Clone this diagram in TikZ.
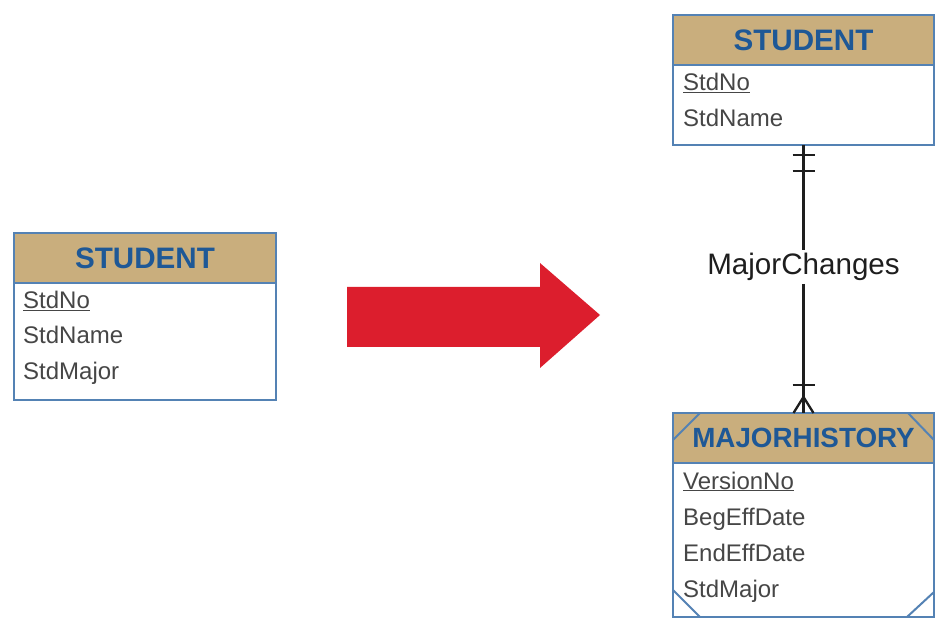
\documentclass[tikz,border=0pt]{standalone}
\usepackage{fontspec}
\setmainfont{Liberation Sans}
\usetikzlibrary{calc}
\definecolor{entblue}{RGB}{84,130,180}
\definecolor{tan}{RGB}{201,174,125}
\definecolor{hdrblue}{RGB}{30,88,150}
\definecolor{attrgray}{RGB}{70,70,70}
\definecolor{linegray}{RGB}{30,30,30}
\definecolor{arrowred}{RGB}{220,30,45}
\begin{document}
\begin{tikzpicture}[x=1pt,y=-1pt,
  ent/.style={draw=entblue, line width=2.4pt, inner sep=0pt, outer sep=0pt, anchor=north west},
  hdr/.style={ent, fill=tan, text=hdrblue, font=\fontsize{29.6}{30}\selectfont\bfseries},
  bodybox/.style={ent, fill=white},
  attr/.style={anchor=base west, text=attrgray, font=\fontsize{24}{24}\selectfont, inner sep=0pt},
  rel/.style={draw=linegray, line width=2.3pt},
  corner/.style={draw=entblue, line width=2pt}]
\useasboundingbox (0,0) rectangle (948,628);
% left STUDENT
\node[hdr, minimum width=262pt, minimum height=50pt] (s1h) at (14,233) {STUDENT};
\node[bodybox, minimum width=262pt, minimum height=117pt] (s1b) at (14,283) {};
\node[attr] (s1a1) at (23,309) {\underline{StdNo}};
\node[attr] (s1a2) at (23,344) {StdName};
\node[attr] (s1a3) at (23,379) {StdMajor};
% red arrow
\fill[arrowred] (347,287) -- (540,287) -- (540,263) -- (600,315) -- (540,368) -- (540,347) -- (347,347) -- cycle;
% right STUDENT
\node[hdr, minimum width=261pt, minimum height=50pt] (s2h) at (673,15) {STUDENT};
\node[bodybox, minimum width=261pt, minimum height=80pt] (s2b) at (673,65) {};
\node[attr] (s2a1) at (683,91) {\underline{StdNo}};
\node[attr] (s2a2) at (683,127) {StdName};
% MAJORHISTORY
\node[hdr, minimum width=261pt, minimum height=50pt, font=\fontsize{27.8}{28}\selectfont\bfseries] (mhh) at (673,413) {MAJORHISTORY};
\node[bodybox, minimum width=261pt, minimum height=154pt] (mhb) at (673,463) {};
\node[attr] (mha1) at (683,489) {\underline{VersionNo}};
\node[attr] (mha2) at (683,525) {BegEffDate};
\node[attr] (mha3) at (683,561) {EndEffDate};
\node[attr] (mha4) at (683,597) {StdMajor};
\draw[corner] ($(mhh.north west)+(0,27)$) -- ($(mhh.north west)+(27,0)$);
\draw[corner] ($(mhh.north east)+(-26,0)$) -- ($(mhh.north east)+(0,27)$);
\draw[corner] ($(mhb.south west)+(0,-27)$) -- ($(mhb.south west)+(27,0)$);
\draw[corner] ($(mhb.south east)+(0,-25)$) -- ($(mhb.south east)+(-27,0)$);
% relationship
\node[font=\fontsize{29.6}{30}\selectfont, text=linegray, inner sep=3pt] (lbl) at (803.5,267) {MajorChanges};
\draw[rel] (s2b.south) -- (lbl.north);
\draw[rel] (lbl.south) -- (mhh.north);
\draw[rel] ($(s2b.south)+(-11,10)$) -- ($(s2b.south)+(11,10)$);
\draw[rel] ($(s2b.south)+(-11,26)$) -- ($(s2b.south)+(11,26)$);
\draw[rel] ($(mhh.north)+(-11,-28)$) -- ($(mhh.north)+(11,-28)$);
\draw[rel] ($(mhh.north)+(0,-16)$) -- ($(mhh.north)+(-10,0)$);
\draw[rel] ($(mhh.north)+(0,-16)$) -- ($(mhh.north)+(10,0)$);
\end{tikzpicture}
\end{document}
